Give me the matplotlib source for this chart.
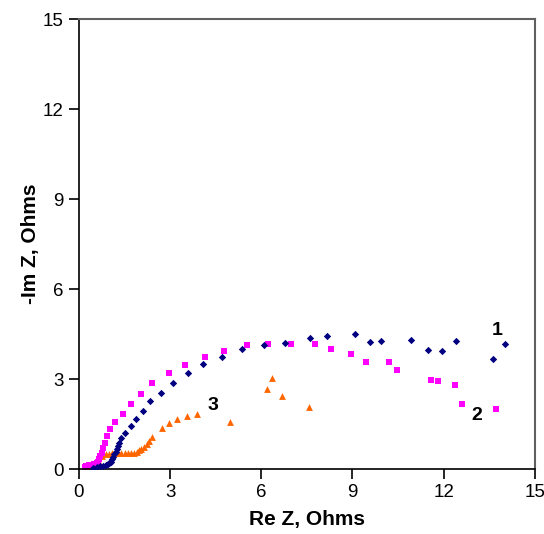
import matplotlib.pyplot as plt

plt.rcParams['font.family'] = ['Liberation Sans', 'DejaVu Sans']

# series 1 (navy diamonds)
re1 = [0.45, 0.58, 0.70, 0.79, 0.88, 0.95, 1.0, 1.05, 1.10, 1.13, 1.17, 1.21, 1.25, 1.29, 1.33,
       1.40, 1.52, 1.70, 1.87, 2.10, 2.34, 2.71, 3.10, 3.58, 4.10, 4.70, 5.38,
       6.09, 6.78, 7.60, 8.16, 9.08, 9.57, 9.93, 10.92, 11.48, 11.94, 12.40, 13.62, 14.01]
im1 = [0.05, 0.08, 0.10, 0.11, 0.14, 0.16, 0.19, 0.24, 0.32, 0.41, 0.50, 0.58, 0.67, 0.76, 0.86,
       1.02, 1.21, 1.43, 1.68, 1.94, 2.26, 2.53, 2.87, 3.19, 3.49, 3.74, 4.00,
       4.13, 4.20, 4.37, 4.43, 4.50, 4.23, 4.27, 4.30, 3.97, 3.93, 4.27, 3.67, 4.17]

# series 2 (magenta squares)
re2 = [0.20, 0.25, 0.33, 0.42, 0.50, 0.58, 0.63, 0.67, 0.71, 0.75, 0.80, 0.86, 0.93, 1.02, 1.19,
       1.44, 1.71, 2.03, 2.42, 2.95, 3.49, 4.15, 4.77, 5.54, 6.23, 6.97, 7.76,
       8.31, 8.94, 9.46, 10.20, 10.48, 11.57, 11.83, 12.38, 12.61, 13.73]
im2 = [0.06, 0.10, 0.12, 0.14, 0.16, 0.19, 0.25, 0.32, 0.42, 0.52, 0.70, 0.88, 1.10, 1.32, 1.57,
       1.84, 2.16, 2.49, 2.86, 3.20, 3.48, 3.73, 3.93, 4.13, 4.16, 4.16, 4.16,
       4.01, 3.83, 3.58, 3.56, 3.31, 2.96, 2.93, 2.80, 2.18, 1.99]

# series 3 (orange triangles)
re3 = [0.25, 0.36, 0.45, 0.53, 0.63, 0.75, 0.89, 1.00, 1.08, 1.18, 1.29, 1.40, 1.51, 1.62, 1.73,
       1.82, 1.90, 1.98, 2.06, 2.15, 2.23, 2.30, 2.39, 2.73, 2.97, 3.23, 3.56, 3.88,
       4.97, 6.18, 6.37, 6.67, 7.56]
im3 = [0.00, 0.08, 0.14, 0.19, 0.30, 0.44, 0.50, 0.51, 0.52, 0.52, 0.52, 0.53, 0.53, 0.53, 0.53,
       0.55, 0.58, 0.62, 0.66, 0.74, 0.82, 0.93, 1.08, 1.38, 1.53, 1.68, 1.78, 1.83,
       1.56, 2.66, 3.04, 2.42, 2.06]

labels = ["1", "2", "3"]
label_pos = [(13.78, 4.63), (13.09, 1.80), (4.41, 2.13)]

fig = plt.figure(figsize=(5.44, 5.34), dpi=100)
ax = fig.add_axes([0.145, 0.1217, 0.838, 0.8427])

ax.scatter(re1, im1, marker="D", s=14, color="#000080", linewidths=0, zorder=3)
ax.scatter(re2, im2, marker="s", s=18, color="#ff00ff", linewidths=0, zorder=2)
ax.scatter(re3, im3, marker="^", s=24, color="#ff6600", linewidths=0, zorder=1)

for lab, (x, y) in zip(labels, label_pos):
    ax.text(x, y, lab, fontsize=14, fontweight="bold", ha="center", va="center")

ax.set_xlim(0, 15)
ax.set_ylim(0, 15)
ax.set_xticks(range(0, 16, 3))
ax.set_yticks(range(0, 16, 3))
ax.tick_params(direction="out", length=7, width=1.2, labelsize=13.5, pad=4,
               right=False, top=False)
ax.set_xlabel("Re Z, Ohms", fontsize=15, fontweight="bold", labelpad=6)
ax.set_ylabel("-Im Z, Ohms", fontsize=15, fontweight="bold", labelpad=2)

for s in ["left", "bottom"]:
    ax.spines[s].set_color("black")
    ax.spines[s].set_linewidth(1.2)
for s in ["top", "right"]:
    ax.spines[s].set_color("#606060")
    ax.spines[s].set_linewidth(1.5)

plt.savefig("out.png")
